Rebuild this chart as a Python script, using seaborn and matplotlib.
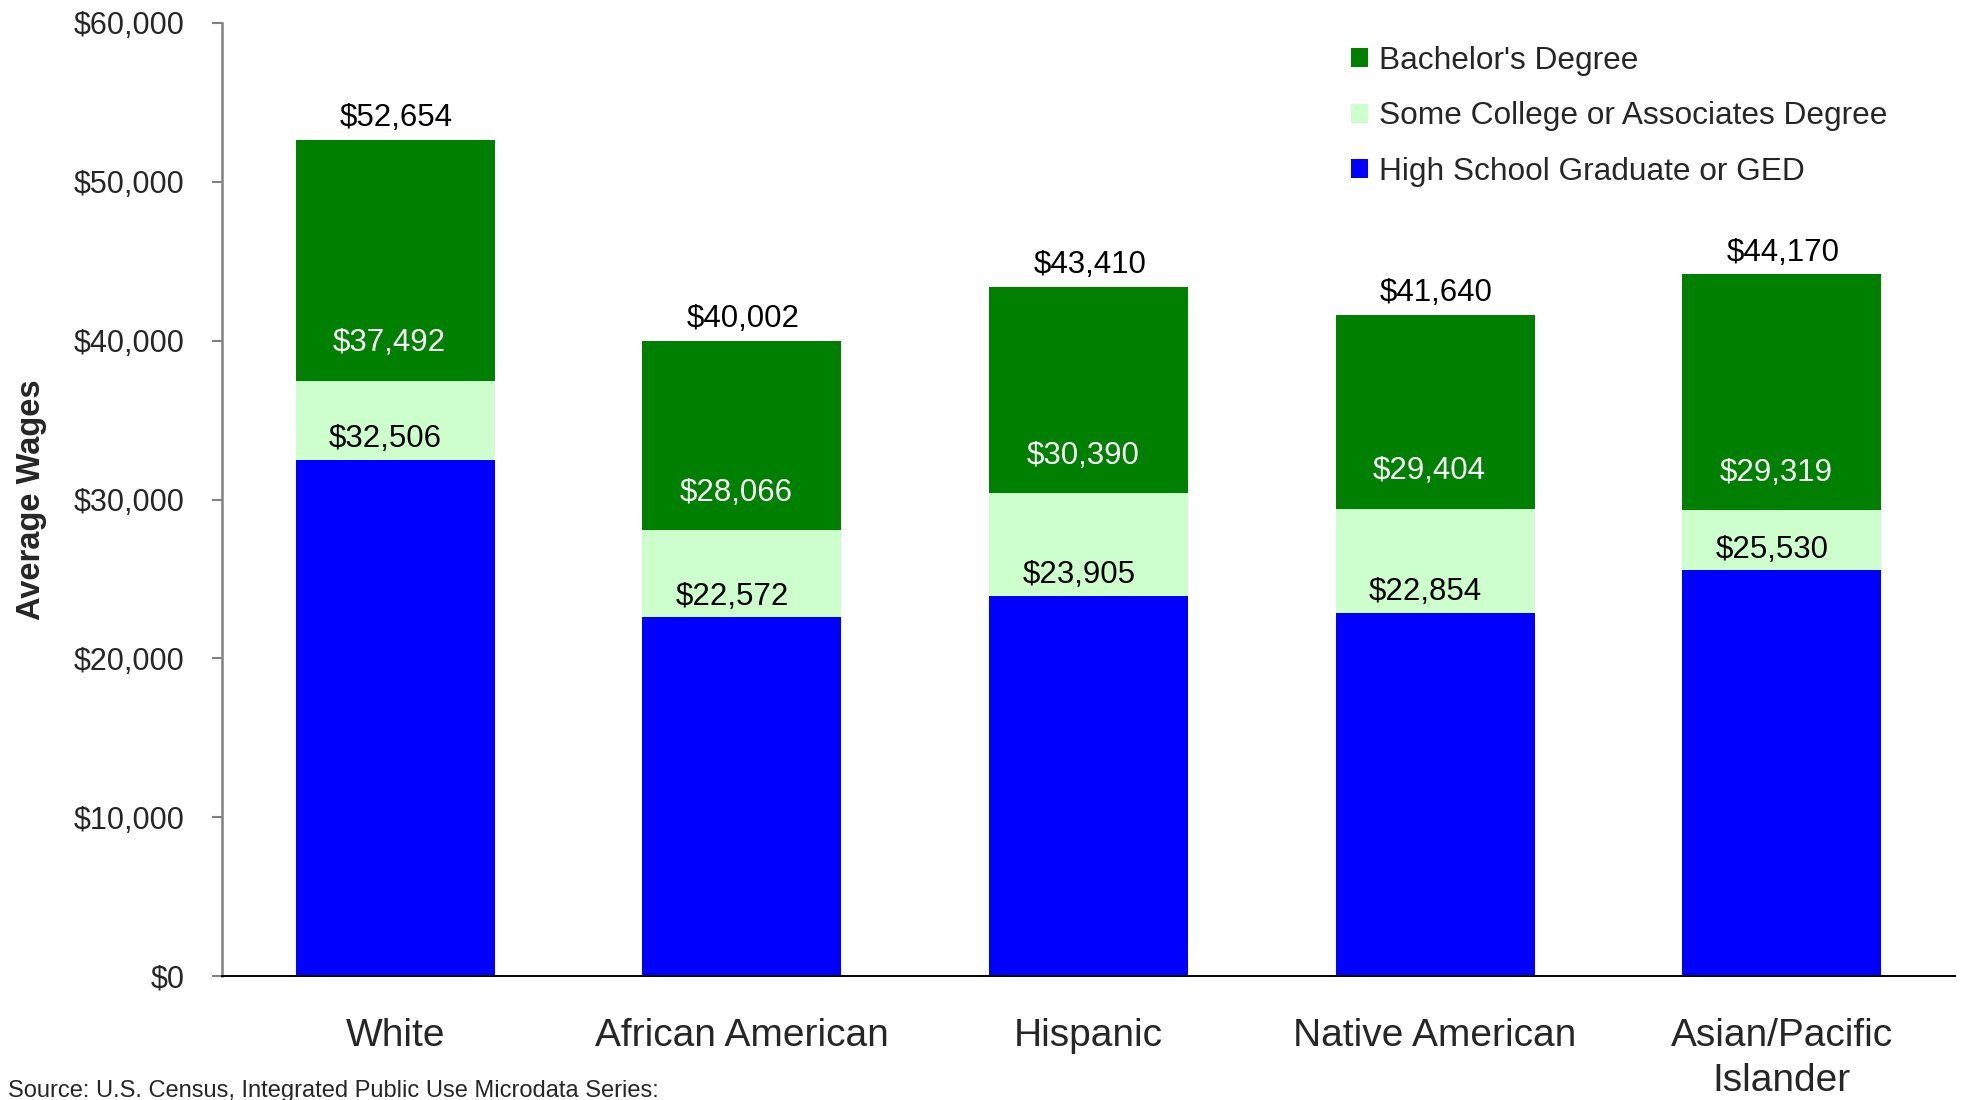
import numpy as np
import pandas as pd
import seaborn as sns
import matplotlib.pyplot as plt
from matplotlib.patches import Patch
from matplotlib import font_manager

# data
races = ['White', 'African American', 'Hispanic', 'Native American', 'Asian/Pacific\nIslander']
high_school = [32506, 22572, 23905, 22854, 25530]
some_college = [37492, 28066, 30390, 29404, 29319]
bachelors = [52654, 40002, 43410, 41640, 44170]

series_names = ["Bachelor's Degree", 'Some College or Associates Degree', 'High School Graduate or GED']
colors = ['#008000', '#CCFFCC', '#0000FF']

sns.set_style('white')
plt.rcParams['font.family'] = ['Liberation Sans', 'DejaVu Sans']

installed = {f.name for f in font_manager.fontManager.ttflist}
narrow = 'Liberation Sans Narrow' if 'Liberation Sans Narrow' in installed else 'Liberation Sans'

df = pd.DataFrame({'race': races, 'hs': high_school, 'some': some_college, 'bach': bachelors})

fig = plt.figure(figsize=(19.67, 11), dpi=100)
ax = fig.add_axes([222 / 1967, 124 / 1100, (1955 - 222) / 1967, (976 - 23) / 1100])

# overlapping bars, tallest first
for col, c in zip(['bach', 'some', 'hs'], colors):
    sns.barplot(data=df, x='race', y=col, color=c, width=0.574, ax=ax,
                saturation=1, edgecolor='none', linewidth=0)

ax.set_xlim(-0.5, 4.5)
ax.set_ylim(0, 60000)
ax.set_yticks(np.arange(0, 60001, 10000))
ax.set_yticklabels([f'${v:,.0f}' for v in np.arange(0, 60001, 10000)], fontsize=22)
ax.set_xticks(range(5))
ax.set_xticklabels(races, fontsize=28, linespacing=1.3)
ax.set_xticks(np.arange(-0.5, 5, 1), minor=True)
ax.tick_params(axis='x', which='major', length=0, pad=30.5)
ax.tick_params(axis='x', which='minor', length=8.6, width=1.2, color='black', direction='out')
ax.tick_params(axis='y', length=7.2, width=1.5, color='#808080', direction='out', pad=20, left=True)
ax.set_xlabel('')
ax.set_ylabel('Average Wages', fontsize=23.5, fontweight='bold', labelpad=19)

for side in ['top', 'right']:
    ax.spines[side].set_visible(False)
ax.spines['left'].set_color('#808080')
ax.spines['left'].set_linewidth(1.8)
ax.spines['bottom'].set_color('black')
ax.spines['bottom'].set_linewidth(1.4)

# value labels
for i in range(len(races)):
    ax.annotate(f'${bachelors[i]:,}', (i, bachelors[i]), xytext=(1, 15.5), textcoords='offset points',
                ha='center', va='center', fontsize=22.5, color='black')
    ax.annotate(f'${some_college[i]:,}', (i, some_college[i]), xytext=(-4, 27), textcoords='offset points',
                ha='center', va='center', fontsize=22.5, color='white')
    ax.annotate(f'${high_school[i]:,}', (i, high_school[i]), xytext=(-7, 15), textcoords='offset points',
                ha='center', va='center', fontsize=22.5, color='black')

handles = [Patch(facecolor=c, edgecolor='none', label=n) for n, c in zip(series_names, colors)]
ax.legend(handles=handles, loc='upper right', bbox_to_anchor=(0.9795, 1.009), frameon=False,
          fontsize=22.8, handlelength=0.55, handleheight=0.55, handletextpad=0.35,
          labelspacing=0.8, borderaxespad=0.6)

fig.text(8 / 1967, 1 - 1091 / 1100, 'Source: U.S. Census, Integrated Public Use Microdata Series:',
         ha='left', va='center', fontsize=17, family=[narrow, 'DejaVu Sans'])

fig.savefig('out.png', dpi=100)
